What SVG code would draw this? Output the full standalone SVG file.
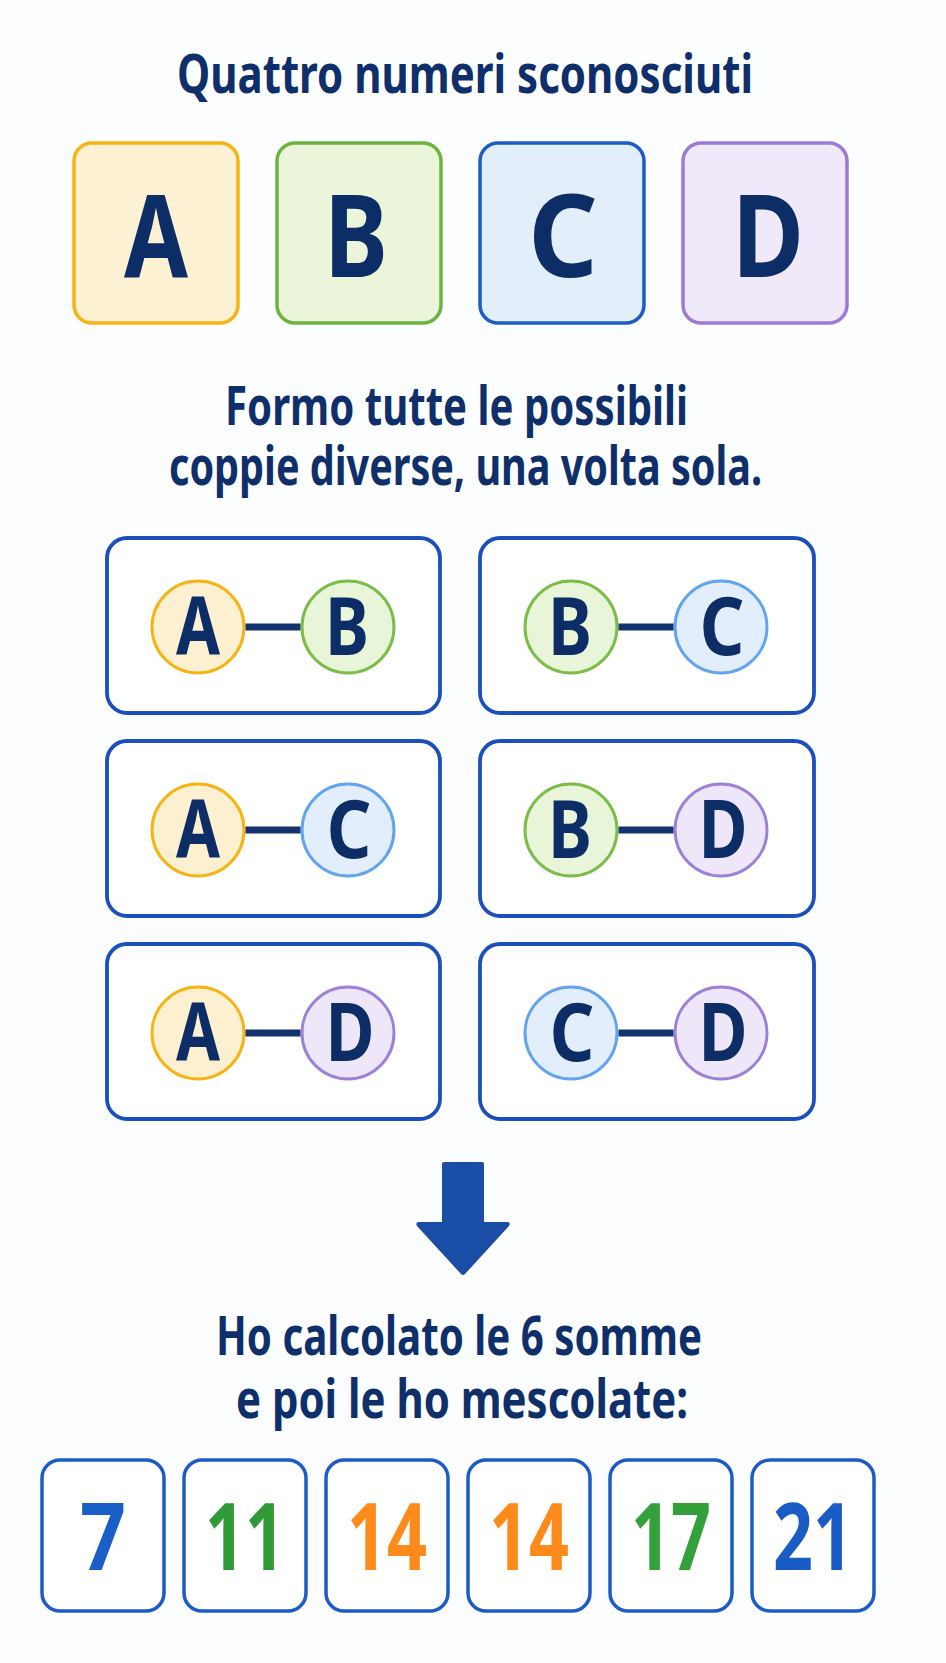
<svg xmlns="http://www.w3.org/2000/svg" width="946" height="1663" viewBox="0 0 946 1663">
<defs>
<style>
.t{font-family:"Noto Sans","Liberation Sans",sans-serif;font-weight:700;fill:#0f2f6b;font-size:54px}
.big{font-family:"Noto Sans","Liberation Sans",sans-serif;font-weight:700;fill:#0c2d66;font-size:115px;text-anchor:middle}
.cl{font-family:"Noto Sans","Liberation Sans",sans-serif;font-weight:700;fill:#0c2d66;font-size:80px;text-anchor:middle}
.num{font-family:"Noto Sans","Liberation Sans",sans-serif;font-weight:700;font-size:94px;text-anchor:middle}
.pair{fill:#ffffff;stroke:#1a4fbc;stroke-width:3.8}
.nbox{fill:#ffffff;stroke:#1d5cc6;stroke-width:3.5}
.ca{fill:#fdf0d0;stroke:#f6b414;stroke-width:3}
.cb{fill:#e9f5d9;stroke:#7bbd49;stroke-width:3}
.cc{fill:#e2eefc;stroke:#62a4ee;stroke-width:3}
.cd{fill:#eee7f9;stroke:#9d80da;stroke-width:3}
.link{stroke:#13336e;stroke-width:7}
</style>
</defs>
<rect width="946" height="1663" fill="#fcfdfe"/>

<text class="t" x="177" y="93" textLength="576" lengthAdjust="spacingAndGlyphs">Quattro numeri sconosciuti</text>

<g id="nodeA">
<rect x="74" y="143" width="164" height="180" rx="18" fill="#fdf1d3" stroke="#f6b414" stroke-width="3.5"/>
<text class="big" x="156" y="277" textLength="64" lengthAdjust="spacingAndGlyphs">A</text>
</g>
<g id="nodeB">
<rect x="277" y="143" width="164" height="180" rx="18" fill="#eaf5da" stroke="#6db33f" stroke-width="3.5"/>
<text class="big" x="356" y="277" textLength="64" lengthAdjust="spacingAndGlyphs">B</text>
</g>
<g id="nodeC">
<rect x="480" y="143" width="164" height="180" rx="18" fill="#e3eefb" stroke="#1d5cc6" stroke-width="3.5"/>
<text class="big" x="563" y="277" textLength="70" lengthAdjust="spacingAndGlyphs">C</text>
</g>
<g id="nodeD">
<rect x="683" y="143" width="164" height="180" rx="18" fill="#f0e9f9" stroke="#9b7ad8" stroke-width="3.5"/>
<text class="big" x="768" y="277" textLength="72" lengthAdjust="spacingAndGlyphs">D</text>
</g>

<text class="t" x="225" y="425" textLength="463" lengthAdjust="spacingAndGlyphs">Formo tutte le possibili</text>
<text class="t" x="169" y="485" textLength="593" lengthAdjust="spacingAndGlyphs">coppie diverse, una volta sola.</text>

<g id="pairAB">
<rect class="pair" x="107" y="538" width="333" height="175" rx="20"/>
<circle class="ca" cx="198" cy="627" r="46"/>
<text class="cl" x="198" y="655" textLength="44" lengthAdjust="spacingAndGlyphs">A</text>
<circle class="cb" cx="348" cy="627" r="46"/>
<text class="cl" x="347" y="655" textLength="44" lengthAdjust="spacingAndGlyphs">B</text>
</g>
<g id="pairBC">
<rect class="pair" x="480" y="538" width="334" height="175" rx="20"/>
<circle class="cb" cx="571" cy="627" r="46"/>
<text class="cl" x="570" y="655" textLength="44" lengthAdjust="spacingAndGlyphs">B</text>
<circle class="cc" cx="721" cy="627" r="46"/>
<text class="cl" x="722" y="655" textLength="45" lengthAdjust="spacingAndGlyphs">C</text>
</g>
<g id="pairAC">
<rect class="pair" x="107" y="741" width="333" height="175" rx="20"/>
<circle class="ca" cx="198" cy="830" r="46"/>
<text class="cl" x="198" y="858" textLength="44" lengthAdjust="spacingAndGlyphs">A</text>
<circle class="cc" cx="348" cy="830" r="46"/>
<text class="cl" x="349" y="858" textLength="45" lengthAdjust="spacingAndGlyphs">C</text>
</g>
<g id="pairBD">
<rect class="pair" x="480" y="741" width="334" height="175" rx="20"/>
<circle class="cb" cx="571" cy="830" r="46"/>
<text class="cl" x="570" y="858" textLength="44" lengthAdjust="spacingAndGlyphs">B</text>
<circle class="cd" cx="721" cy="830" r="46"/>
<text class="cl" x="723" y="858" textLength="49" lengthAdjust="spacingAndGlyphs">D</text>
</g>
<g id="pairAD">
<rect class="pair" x="107" y="944" width="333" height="175" rx="20"/>
<circle class="ca" cx="198" cy="1033" r="46"/>
<text class="cl" x="198" y="1061" textLength="44" lengthAdjust="spacingAndGlyphs">A</text>
<circle class="cd" cx="348" cy="1033" r="46"/>
<text class="cl" x="350" y="1061" textLength="49" lengthAdjust="spacingAndGlyphs">D</text>
</g>
<g id="pairCD">
<rect class="pair" x="480" y="944" width="334" height="175" rx="20"/>
<circle class="cc" cx="571" cy="1033" r="46"/>
<text class="cl" x="572" y="1061" textLength="45" lengthAdjust="spacingAndGlyphs">C</text>
<circle class="cd" cx="721" cy="1033" r="46"/>
<text class="cl" x="723" y="1061" textLength="49" lengthAdjust="spacingAndGlyphs">D</text>
</g>

<g id="connectors">
<line class="link" x1="245.5" y1="627" x2="300.5" y2="627"/>
<line class="link" x1="618.5" y1="627" x2="673.5" y2="627"/>
<line class="link" x1="245.5" y1="830" x2="300.5" y2="830"/>
<line class="link" x1="618.5" y1="830" x2="673.5" y2="830"/>
<line class="link" x1="245.5" y1="1033" x2="300.5" y2="1033"/>
<line class="link" x1="618.5" y1="1033" x2="673.5" y2="1033"/>
</g>

<g id="arrow">
<path d="M444 1162 H482 Q484 1162 484 1164 V1222 H507 Q511 1222 509 1226 L465 1274 Q463 1276 461 1274 L417 1226 Q415 1222 419 1222 H442 V1164 Q442 1162 444 1162 Z" fill="#1a4da5"/>
</g>

<text class="t" x="216" y="1355" textLength="486" lengthAdjust="spacingAndGlyphs">Ho calcolato le 6 somme</text>
<text class="t" x="236" y="1418" textLength="452" lengthAdjust="spacingAndGlyphs">e poi le ho mescolate:</text>

<g id="sum1">
<rect class="nbox" x="42" y="1460" width="122" height="151" rx="18"/>
<text class="num" x="103" y="1570" fill="#1a5fc7" textLength="46" lengthAdjust="spacingAndGlyphs">7</text>
</g>
<g id="sum2">
<rect class="nbox" x="184" y="1460" width="122" height="151" rx="18"/>
<text class="num" x="245" y="1570" fill="#2f9a36" textLength="80" lengthAdjust="spacingAndGlyphs">11</text>
</g>
<g id="sum3">
<rect class="nbox" x="326" y="1460" width="122" height="151" rx="18"/>
<text class="num" x="387" y="1570" fill="#ff8a1c" textLength="80" lengthAdjust="spacingAndGlyphs">14</text>
</g>
<g id="sum4">
<rect class="nbox" x="468" y="1460" width="122" height="151" rx="18"/>
<text class="num" x="529" y="1570" fill="#ff8a1c" textLength="80" lengthAdjust="spacingAndGlyphs">14</text>
</g>
<g id="sum5">
<rect class="nbox" x="610" y="1460" width="122" height="151" rx="18"/>
<text class="num" x="671" y="1570" fill="#33a03a" textLength="80" lengthAdjust="spacingAndGlyphs">17</text>
</g>
<g id="sum6">
<rect class="nbox" x="752" y="1460" width="122" height="151" rx="18"/>
<text class="num" x="813" y="1570" fill="#1a5cc6" textLength="80" lengthAdjust="spacingAndGlyphs">21</text>
</g>
</svg>
